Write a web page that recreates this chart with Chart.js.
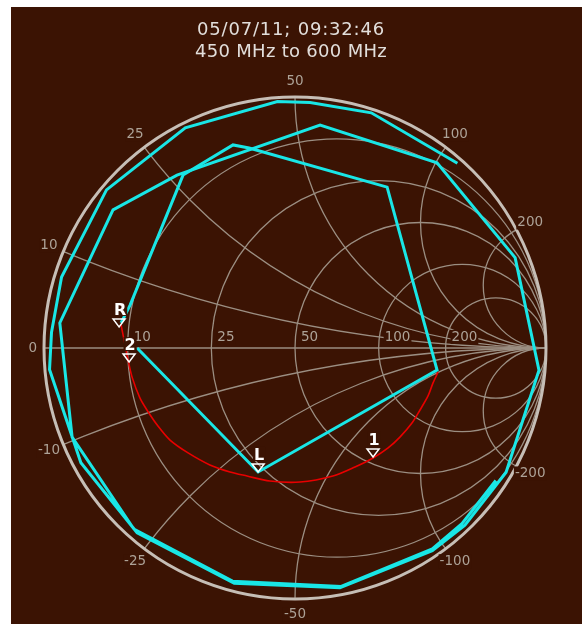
<!DOCTYPE html>
<html>
<head>
<meta charset="utf-8">
<script src="https://cdn.jsdelivr.net/npm/chart.js@4.4.0/dist/chart.umd.min.js"></script>
<style>
  html, body { margin: 0; background: #ffffff; }
  #wrap { position: absolute; left: 11px; top: 7px; width: 571px; height: 617px; background: #3b1303; }
</style>
</head>
<body>
<div id="wrap"><canvas id="smithChart"></canvas></div>
<script>
// Header text
const titleLines = ["05/07/11; 09:32:46", "450 MHz to 600 MHz"];

// Grid values in ohms (Z0 = 50)
const z0 = 50;
const resistanceOhms = [10, 25, 50, 100, 200];
const reactanceOhms = [10, 25, 50, 100, 200];

// Traces as reflection coefficient [re, im]
const outerSweep = [
  [0.647, 0.736], [0.304, 0.937], [0.060, 0.978], [-0.070, 0.982], [-0.437, 0.877],
  [-0.751, 0.630], [-0.930, 0.283], [-0.970, 0.063], [-0.978, -0.086], [-0.853, -0.457],
  [-0.629, -0.736], [-0.242, -0.937], [0.179, -0.955], [0.547, -0.808], [0.677, -0.706],
  [0.841, -0.495], [0.972, -0.088], [0.877, 0.360], [0.566, 0.738], [0.100, 0.888],
  [-0.470, 0.689], [-0.725, 0.550], [-0.937, 0.100], [-0.888, -0.355], [-0.642, -0.721],
  [-0.249, -0.929], [0.184, -0.950], [0.547, -0.800], [0.665, -0.700], [0.800, -0.528]
];
const innerSweep = [
  [-0.693, 0.100], [-0.657, 0.171], [-0.446, 0.689], [-0.247, 0.809], [-0.183, 0.797],
  [0.367, 0.641], [0.566, -0.088], [-0.147, -0.494], [-0.629, 0.000]
];
const refArc = [
  [-0.693, 0.092], [-0.681, 0.032], [-0.665, -0.048], [-0.649, -0.116], [-0.618, -0.199],
  [-0.590, -0.247], [-0.546, -0.311], [-0.498, -0.367], [-0.426, -0.418], [-0.339, -0.466],
  [-0.259, -0.494], [-0.191, -0.510], [-0.100, -0.530], [0.020, -0.534], [0.151, -0.510],
  [0.239, -0.474], [0.311, -0.438], [0.371, -0.398], [0.418, -0.355], [0.466, -0.299],
  [0.498, -0.247], [0.530, -0.191], [0.550, -0.139], [0.570, -0.096]
];

// Markers
const markerLabels = ["R", "2", "L", "1"];
const markerRe = [-0.701, -0.661, -0.147, 0.311];
const markerIm = [0.084, -0.056, -0.494, -0.434];

const bgColor = "#3b1303";
const gridColor = "#9b8e82";
const labelColor = "#ada297";
const ringColor = "#c6beb6";
const cyan = "#19e6e6";
const red = "#e80000";

const toXY = (pts) => pts.map((p) => ({ x: p[0], y: p[1] }));

function boxedText(ctx, text, x, y, align) {
  const w = ctx.measureText(text).width;
  const left = align === "left" ? x : x - w / 2;
  ctx.fillStyle = bgColor;
  ctx.fillRect(left - 1, y - 7, w + 2, 14);
  ctx.fillStyle = labelColor;
  ctx.fillText(text, left, y);
}

const smithGrid = {
  id: "smithGrid",
  beforeDatasetsDraw(chart) {
    const { ctx, scales: { x, y } } = chart;
    const px = (v) => x.getPixelForValue(v);
    const py = (v) => y.getPixelForValue(v);
    const cx = px(0), cy = py(0);
    const unit = px(1) - px(0);

    ctx.save();
    ctx.beginPath();
    ctx.arc(cx, cy, unit, 0, Math.PI * 2);
    ctx.clip();
    ctx.strokeStyle = gridColor;
    ctx.lineWidth = 1.3;

    // constant resistance circles
    resistanceOhms.forEach((ohm) => {
      const r = ohm / z0;
      ctx.beginPath();
      ctx.arc(px(r / (1 + r)), cy, unit / (1 + r), 0, Math.PI * 2);
      ctx.stroke();
    });
    // constant reactance arcs
    reactanceOhms.forEach((ohm) => {
      [1, -1].forEach((s) => {
        const xn = (s * ohm) / z0;
        ctx.beginPath();
        ctx.arc(px(1), py(1 / xn), unit / Math.abs(xn), 0, Math.PI * 2);
        ctx.stroke();
      });
    });
    ctx.beginPath();
    ctx.moveTo(px(-1), cy);
    ctx.lineTo(px(1), cy);
    ctx.stroke();
    ctx.restore();

    // outer ring
    ctx.save();
    ctx.strokeStyle = ringColor;
    ctx.lineWidth = 3;
    ctx.beginPath();
    ctx.arc(cx, cy, unit, 0, Math.PI * 2);
    ctx.stroke();

    ctx.font = "13.5px 'DejaVu Sans'";
    ctx.textBaseline = "middle";
    // resistance labels along the real axis
    resistanceOhms.forEach((ohm) => {
      const r = ohm / z0;
      boxedText(ctx, String(ohm), px((r - 1) / (r + 1)) + 6, cy - 11, "left");
    });
    // reactance labels around the rim
    const rim = unit * 1.062;
    boxedText(ctx, "0", cx - unit * 1.045, cy, "center");
    reactanceOhms.forEach((ohm) => {
      [1, -1].forEach((s) => {
        const xn = (s * ohm) / z0;
        const ang = Math.atan2((2 * xn) / (xn * xn + 1), (xn * xn - 1) / (xn * xn + 1));
        const tx = cx + rim * Math.cos(ang);
        const ty = cy - rim * Math.sin(ang);
        boxedText(ctx, String(s * ohm), tx, ty, "center");
      });
    });
    ctx.restore();
  },
  afterDatasetsDraw(chart) {
    const { ctx, scales: { x, y } } = chart;
    ctx.save();
    markerLabels.forEach((lab, i) => {
      const mx = x.getPixelForValue(markerRe[i]);
      const my = y.getPixelForValue(markerIm[i]);
      ctx.strokeStyle = "#ffffff";
      ctx.lineWidth = 1.5;
      ctx.beginPath();
      ctx.moveTo(mx, my);
      ctx.lineTo(mx - 6, my - 8);
      ctx.lineTo(mx + 6, my - 8);
      ctx.closePath();
      ctx.stroke();
      ctx.font = "bold 16px 'DejaVu Sans'";
      ctx.textAlign = "center";
      ctx.textBaseline = "alphabetic";
      const w = ctx.measureText(lab).width;
      ctx.fillStyle = bgColor;
      ctx.fillRect(mx + 1 - w / 2 - 1, my - 25, w + 2, 14);
      ctx.fillStyle = "#ffffff";
      ctx.fillText(lab, mx + 1, my - 12);
    });
    ctx.restore();
  },
  afterDraw(chart) {
    const { ctx } = chart;
    ctx.save();
    ctx.fillStyle = "#e2dedb";
    ctx.font = "18px 'DejaVu Sans'";
    ctx.textAlign = "center";
    ctx.textBaseline = "middle";
    ctx.letterSpacing = "0.8px";
    ctx.fillText(titleLines[0], 280, 23);
    ctx.letterSpacing = "0.3px";
    ctx.fillText(titleLines[1], 280, 45);
    ctx.restore();
  }
};

new Chart(document.getElementById("smithChart"), {
  type: "scatter",
  data: {
    datasets: [
      { data: toXY(innerSweep), showLine: true, borderColor: cyan, borderWidth: 3, pointRadius: 0, tension: 0 },
      { data: toXY(outerSweep), showLine: true, borderColor: cyan, borderWidth: 3, pointRadius: 0, tension: 0 },
      { data: toXY(refArc), showLine: true, borderColor: red, borderWidth: 1.6, pointRadius: 0, tension: 0.3 }
    ]
  },
  options: {
    responsive: true,
    maintainAspectRatio: false,
    animation: false,
    layout: { padding: { left: 33, right: 36, top: 90, bottom: 25 } },
    scales: {
      x: { type: "linear", min: -1, max: 1, display: false },
      y: { type: "linear", min: -1, max: 1, display: false }
    },
    plugins: {
      legend: { display: false },
      tooltip: { enabled: false }
    }
  },
  plugins: [smithGrid]
});
</script>
</body>
</html>
